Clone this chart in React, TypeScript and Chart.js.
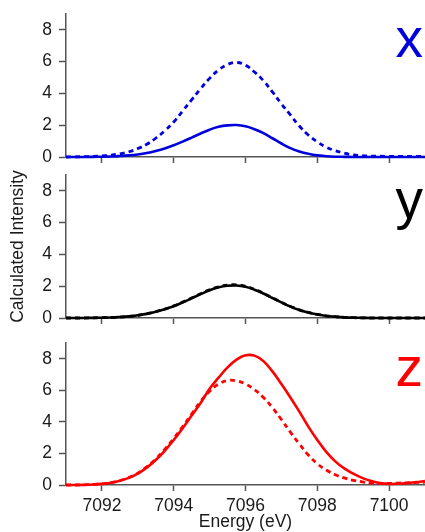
import React, { useEffect, useRef } from "react";
import { Chart, registerables } from "chart.js";

Chart.register(...registerables);

// Energy grid (eV)
const energy = [
  7091, 7091.25, 7091.5, 7091.75, 7092, 7092.25, 7092.5, 7092.75,
  7093, 7093.25, 7093.5, 7093.75, 7094, 7094.25, 7094.5, 7094.75,
  7095, 7095.25, 7095.5, 7095.75, 7096, 7096.25, 7096.5, 7096.75,
  7097, 7097.25, 7097.5, 7097.75, 7098, 7098.25, 7098.5, 7098.75,
  7099, 7099.25, 7099.5, 7099.75, 7100, 7100.25, 7100.5, 7100.75, 7101,
];

const xSolid = [
  0, 0, 0, 0.01, 0.02, 0.03, 0.06, 0.1,
  0.16, 0.25, 0.38, 0.54, 0.74, 0.97, 1.22, 1.48,
  1.72, 1.9, 1.99, 2.01, 1.93, 1.75, 1.5, 1.18,
  0.85, 0.56, 0.35, 0.2, 0.1, 0.05, 0.02, 0.01,
  0, 0, 0, 0, 0, 0, 0, 0, 0,
];
const xDashed = [
  0, 0.01, 0.02, 0.04, 0.07, 0.12, 0.2, 0.33,
  0.53, 0.8, 1.18, 1.65, 2.2, 2.9, 3.6, 4.3,
  4.95, 5.48, 5.82, 5.95, 5.78, 5.35, 4.8, 4.1,
  3.35, 2.65, 1.95, 1.38, 0.95, 0.62, 0.4, 0.24,
  0.13, 0.08, 0.06, 0.05, 0.04, 0.04, 0.04, 0.04, 0.04,
];
const ySolid = [
  0, 0, 0, 0.01, 0.02, 0.03, 0.06, 0.1,
  0.17, 0.26, 0.39, 0.55, 0.74, 0.98, 1.24, 1.5,
  1.75, 1.93, 2.03, 2.05, 1.96, 1.78, 1.54, 1.26,
  0.98, 0.72, 0.5, 0.34, 0.22, 0.13, 0.08, 0.04,
  0.02, 0.01, 0, 0, 0, 0, 0, 0, 0,
];
const yDashed = [
  0, 0, 0, 0.01, 0.02, 0.03, 0.06, 0.1,
  0.17, 0.27, 0.4, 0.56, 0.76, 1.0, 1.26, 1.53,
  1.78, 1.96, 2.07, 2.09, 2.0, 1.81, 1.56, 1.28,
  0.99, 0.73, 0.51, 0.35, 0.23, 0.14, 0.08, 0.04,
  0.02, 0.01, 0, 0, 0, 0, 0, 0, 0,
];
const zSolid = [
  0, 0, 0.01, 0.03, 0.07, 0.14, 0.27, 0.45,
  0.72, 1.1, 1.58, 2.17, 2.85, 3.6, 4.4, 5.2,
  6.1, 6.8, 7.45, 7.95, 8.22, 8.2, 7.85, 7.2,
  6.4, 5.55, 4.65, 3.7, 2.85, 2.1, 1.5, 1.05,
  0.72, 0.45, 0.25, 0.12, 0.07, 0.08, 0.12, 0.18, 0.25,
];
const zDashed = [
  0, 0, 0.01, 0.03, 0.07, 0.15, 0.28, 0.47,
  0.75, 1.15, 1.65, 2.25, 2.95, 3.7, 4.5, 5.3,
  5.95, 6.4, 6.62, 6.6, 6.4, 6.05, 5.55, 4.9,
  4.15, 3.35, 2.6, 1.9, 1.35, 0.95, 0.65, 0.45,
  0.3, 0.2, 0.12, 0.1, 0.1, 0.12, 0.14, 0.16, 0.18,
];

const xTickValues = [7092, 7094, 7096, 7098, 7100];
const yTickValues = [0, 2, 4, 6, 8];
const xLabel = "Energy (eV)";
const yLabel = "Calculated Intensity";

const FONT = '"Liberation Sans", Arial, Helvetica, sans-serif';
const AXIS_COLOR = "#555555";
const TEXT_COLOR = "#1a1a1a";

const letterPlugin = {
  id: "panelLetter",
  afterDraw(chart: any, _args: any, opts: any) {
    const { ctx, chartArea } = chart;
    ctx.save();
    ctx.font = `55px ${FONT}`;
    ctx.fillStyle = opts.color;
    ctx.textAlign = "right";
    ctx.textBaseline = "alphabetic";
    ctx.fillText(opts.text, chartArea.right - 2, chartArea.top + 43);
    ctx.restore();
  },
};

type PanelProps = {
  top: number;
  height: number;
  padTop: number;
  xAxisHeight: number;
  solid: number[];
  dashed: number[];
  color: string;
  letter: string;
  showXLabels: boolean;
  showYTitle: boolean;
};

function Panel(p: PanelProps) {
  const ref = useRef<HTMLCanvasElement | null>(null);

  useEffect(() => {
    if (!ref.current) return;
    const toPts = (arr: number[]) => energy.map((e, i) => ({ x: e, y: arr[i] }));
    const chart = new Chart(ref.current, {
      type: "line",
      data: {
        datasets: [
          {
            data: toPts(p.dashed),
            borderColor: p.color,
            borderWidth: 2.8,
            borderDash: [5, 4],
            pointRadius: 0,
            tension: 0.4,
            clip: false,
          } as any,
          {
            data: toPts(p.solid),
            borderColor: p.color,
            borderWidth: 2.6,
            pointRadius: 0,
            tension: 0.4,
            clip: false,
          } as any,
        ],
      },
      options: {
        animation: false,
        responsive: false,
        devicePixelRatio: 1,
        layout: { padding: { top: p.padTop, left: 0, right: 0, bottom: 0 } },
        plugins: {
          legend: { display: false },
          tooltip: { enabled: false },
          panelLetter: { text: p.letter, color: p.color },
        } as any,
        scales: {
          x: {
            type: "linear",
            min: 7091,
            max: 7101,
            afterBuildTicks: (s: any) => {
              s.ticks = xTickValues.map((v) => ({ value: v }));
            },
            afterFit: (s: any) => {
              s.height = p.xAxisHeight;
            },
            grid: {
              drawOnChartArea: false,
              drawTicks: true,
              tickLength: 6,
              tickColor: AXIS_COLOR,
              tickWidth: 1.5,
            },
            border: { display: true, color: AXIS_COLOR, width: 1.5 },
            ticks: {
              display: p.showXLabels,
              autoSkip: false,
              maxRotation: 0,
              padding: 5,
              color: TEXT_COLOR,
              font: { family: FONT, size: 17.5 },
              callback: (v: any) => String(v),
            },
            title: {
              display: p.showXLabels,
              text: xLabel,
              color: TEXT_COLOR,
              font: { family: FONT, size: 17.5, lineHeight: 1.1 },
              padding: 0,
            },
          },
          y: {
            type: "linear",
            min: 0,
            max: 9,
            afterBuildTicks: (s: any) => {
              s.ticks = yTickValues.map((v) => ({ value: v }));
            },
            afterFit: (s: any) => {
              s.width = 66;
              s.paddingTop = 0;
              s.paddingBottom = 0;
            },
            grid: {
              drawOnChartArea: false,
              drawTicks: true,
              tickLength: 7,
              tickColor: AXIS_COLOR,
              tickWidth: 1.5,
            },
            border: { display: true, color: AXIS_COLOR, width: 1.5 },
            ticks: {
              padding: 7,
              color: TEXT_COLOR,
              font: { family: FONT, size: 17.5 },
            },
            title: {
              display: p.showYTitle,
              text: yLabel,
              color: TEXT_COLOR,
              font: { family: FONT, size: 17.5 },
              padding: { top: 8, bottom: 0 },
            },
          },
        } as any,
      },
      plugins: [letterPlugin as any],
    });
    return () => chart.destroy();
  }, []);

  return (
    <canvas
      ref={ref}
      width={425}
      height={p.height}
      style={{ position: "absolute", left: 0, top: p.top, width: 425, height: p.height, display: "block" }}
    />
  );
}

export default function App() {
  return (
    <div style={{ position: "absolute", left: 0, top: 0, width: 425, height: 532, background: "#ffffff", overflow: "hidden" }}>
      <Panel top={0} height={170} padTop={14} xAxisHeight={13} solid={xSolid} dashed={xDashed} color="#0000dd" letter="x" showXLabels={false} showYTitle={false} />
      <Panel top={165} height={170} padTop={10} xAxisHeight={17} solid={ySolid} dashed={yDashed} color="#000000" letter="y" showXLabels={false} showYTitle={true} />
      <Panel top={335} height={197} padTop={8} xAxisHeight={47} solid={zSolid} dashed={zDashed} color="#ff0000" letter="z" showXLabels={true} showYTitle={false} />
    </div>
  );
}
